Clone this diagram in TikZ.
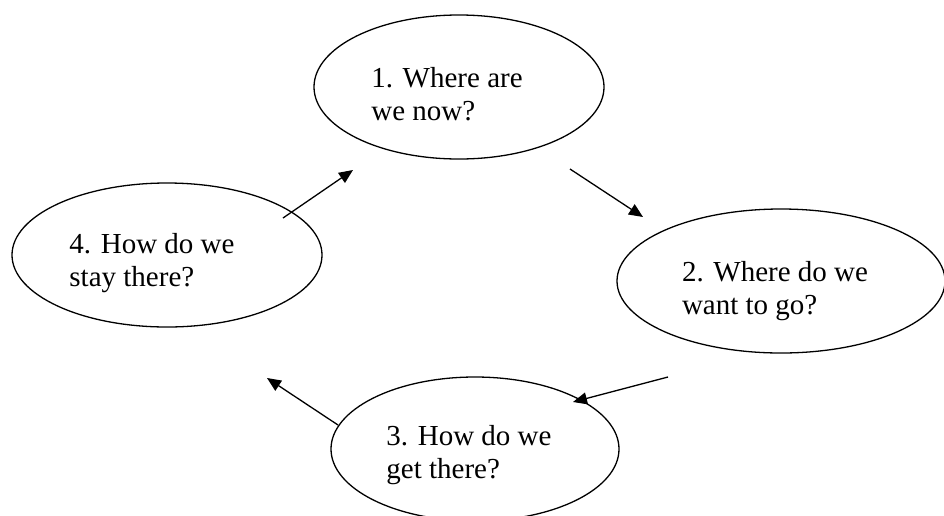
\documentclass[tikz,border=0pt]{standalone}
\usepackage{fontspec}
\setmainfont{Liberation Serif}
\usetikzlibrary{shapes.geometric, arrows.meta, calc}

\begin{document}
\begin{tikzpicture}[
    x=1pt, y=-1pt,
    stage/.style={draw, ellipse, line width=1.3pt, inner sep=0pt, minimum height=144pt, minimum width=#1},
    stage/.default=290pt,
    qtext/.style={align=left, inner sep=0pt, font=\fontsize{29}{33}\selectfont},
    arrow/.style={-{Triangle[length=14pt, width=12pt]}, line width=1.3pt}
]
\useasboundingbox (0,0) rectangle (944,515);
\clip (0,0) rectangle (944,515);

%% Stages
\node[stage=290pt] (st1) at (459,87) {};
\node[stage=328pt] (st2) at (781,281) {};
\node[stage=288pt] (st3) at (475,449) {};
\node[stage=310pt] (st4) at (167,255) {};

%% Questions
\node[qtext] (st1_text) at (447,94) {1. Where are\\we now?};
\node[qtext] (st2_text) at (775,291) {2. Where do we\\want to go?};
\node[qtext] (st3_text) at (469,455) {3. How do we\\get there?};
\node[qtext] (st4_text) at (152,263) {4. How do we\\stay there?};

%% Arrow ends
\coordinate (a41) at (283,218);
\coordinate (a14) at (353,170);
\coordinate (a12) at (570,169);
\coordinate (a21) at (643,217);
\coordinate (a23) at (668,377);
\coordinate (a32) at (573,402);
\coordinate (a34) at (338,425);
\coordinate (a43) at (267,378);

\draw[arrow] (a41) -- (a14);
\draw[arrow] (a12) -- (a21);
\draw[arrow] (a23) -- (a32);
\draw[arrow] (a34) -- (a43);

\end{tikzpicture}
\end{document}
